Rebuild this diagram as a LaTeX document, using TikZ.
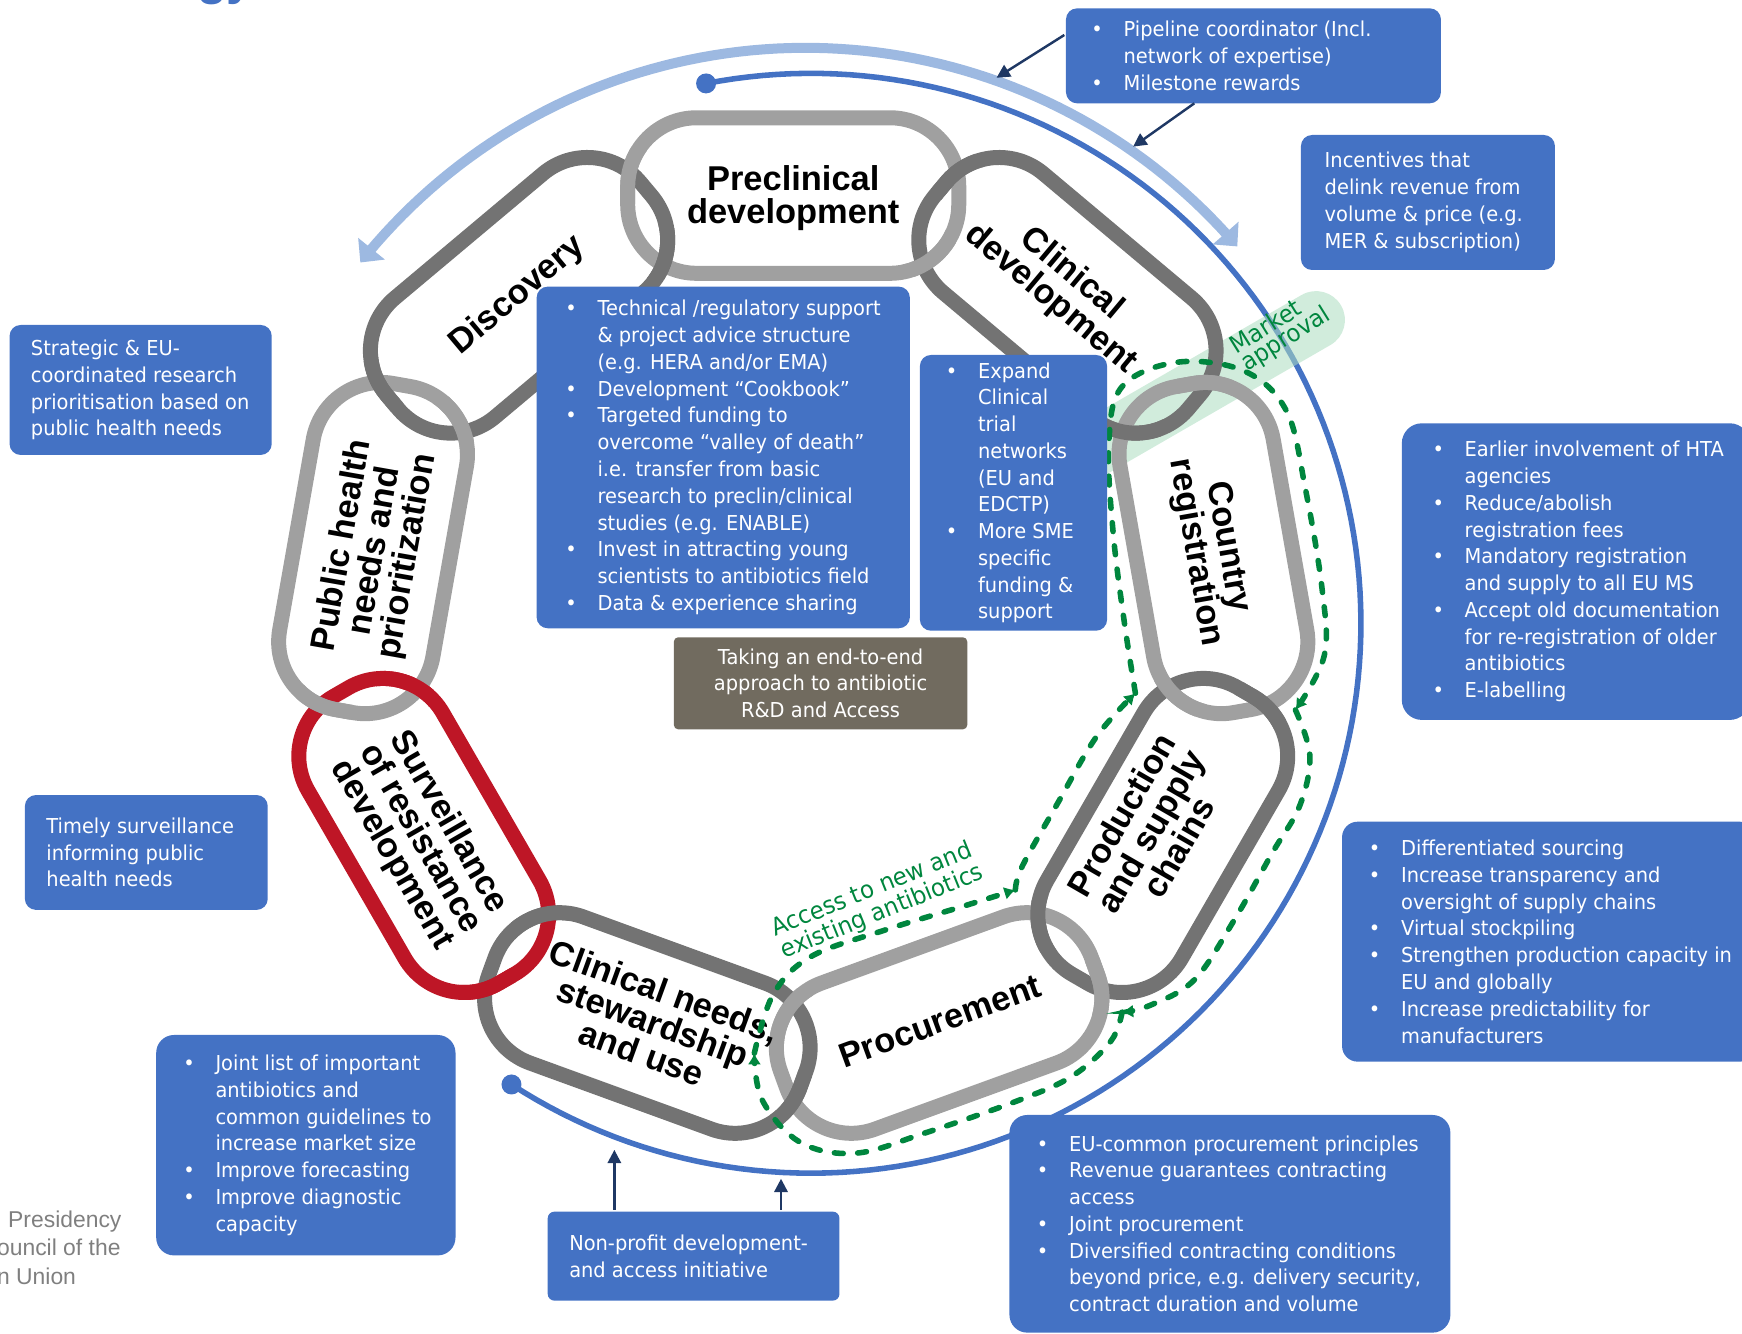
\documentclass[tikz,border=0pt]{standalone}
\usepackage{fontspec}
\usetikzlibrary{arrows.meta,fit}
\newfontfamily\boxfont{DejaVu Sans}[FakeStretch=0.945]
\newfontfamily\lblfont{Liberation Sans}
\definecolor{boxblue}{HTML}{4472C4}
\definecolor{lightarc}{HTML}{9DB9E1}
\definecolor{navy}{HTML}{1F3864}
\definecolor{lgray}{HTML}{A0A0A0}
\definecolor{dgray}{HTML}{737373}
\definecolor{linkred}{HTML}{BE1626}
\definecolor{dgreen}{HTML}{00863E}
\definecolor{bandgreen}{HTML}{ACDDC0}
\definecolor{taupe}{HTML}{716B5F}
\definecolor{pgray}{HTML}{7F7F7F}
\newcommand{\chainlink}[4]{\begin{scope}[shift={(#2,#3)},rotate=#4]\draw[#1,line width=6.75pt,rounded corners=31pt] (-149,-70) rectangle (149,70);\end{scope}}
\newcommand{\Lprecl}{\chainlink{lgray}{714}{176}{0}}
\newcommand{\Lclindev}{\chainlink{dgray}{960.8}{265.8}{-40}}
\newcommand{\Lcountry}{\chainlink{lgray}{1092.2}{493.3}{-80}}
\newcommand{\Lprod}{\chainlink{dgray}{1046.6}{752}{60}}
\newcommand{\Lproc}{\chainlink{lgray}{845.3}{920.8}{20}}
\newcommand{\Lclinneeds}{\chainlink{dgray}{582.7}{920.8}{-20}}
\newcommand{\Lsurv}{\chainlink{linkred}{381.4}{752}{-60}}
\newcommand{\Lpublic}{\chainlink{lgray}{335.8}{493.3}{80}}
\newcommand{\Ldisc}{\chainlink{dgray}{467.2}{265.8}{40}}
\newcommand{\crosspatch}[3]{\begin{scope}\clip ({714+#2*cos(#3)},{560-#2*sin(#3)}) circle (13pt);#1\end{scope}}
\newcommand{\bul}{\llap{\makebox[14.5pt][l]{\textbullet}}}
\begin{document}
\begin{tikzpicture}[x=0.5pt, y=-0.5pt,
  box/.style={fill=boxblue, draw=none, rounded corners=5pt, inner sep=0},
  boxtext/.style={font=\boxfont\fontsize{9.25}{12.05}\selectfont, text=white, align=left, inner sep=0, anchor=west},
  lbl/.style={font=\lblfont\bfseries\fontsize{15.5}{14.8}\selectfont, align=center, inner sep=0},
  navyarrow/.style={navy, line width=1.1pt, -{Triangle[length=6pt,width=6pt]}},
  greendash/.style={dgreen, line width=2.5pt, line cap=round, dash pattern=on 4pt off 6.5pt, -{Latex[length=5pt,width=6pt]}},
  greentext/.style={font=\boxfont\fontsize{10.9}{11}\selectfont, text=dgreen, align=left, inner sep=0}
]
\useasboundingbox (0,0) rectangle (1568,1200);

% title fragment
\node[text=boxblue, font=\lblfont\bfseries\fontsize{22}{22}\selectfont, anchor=base, inner sep=0] (title) at (203,-5) {gy};

% light blue double arrow arc
\draw[lightarc, line width=4.5pt, {Triangle[width=15pt,length=8pt]}-{Triangle[width=15pt,length=8pt]}]
  plot[domain=141.5:40.6, samples=80] ({725+512*cos(\x)},{555-512*sin(\x)});

% blue arc with dots
\coordinate (bs) at ({730+495*cos(101)},{561-495*sin(101)});
\coordinate (be) at ({730+495*cos(-123)},{561-495*sin(-123)});
\draw[boxblue, line width=2.5pt] plot[domain=101:-123, samples=150] ({730+495*cos(\x)},{561-495*sin(\x)});
\fill[boxblue] (bs) circle (4.5pt);
\fill[boxblue] (be) circle (4.5pt);

% market approval band
\draw[bandgreen, draw opacity=0.55, line width=26pt, line cap=round] (975,409) -- (1184.6,288);

% chain links
\Lprecl \Lclindev \Lcountry \Lprod \Lproc \Lclinneeds \Lsurv \Lpublic \Ldisc
\crosspatch{\Lprecl}{428}{110} \crosspatch{\Ldisc}{355}{110}
\crosspatch{\Lclindev}{428}{70} \crosspatch{\Lprecl}{355}{70}
\crosspatch{\Lcountry}{428}{30} \crosspatch{\Lclindev}{355}{30}
\crosspatch{\Lprod}{428}{-10} \crosspatch{\Lcountry}{355}{-10}
\crosspatch{\Lproc}{428}{-50} \crosspatch{\Lprod}{355}{-50}
\crosspatch{\Lclinneeds}{428}{-90} \crosspatch{\Lproc}{355}{-90}
\crosspatch{\Lsurv}{428}{-130} \crosspatch{\Lclinneeds}{355}{-130}
\crosspatch{\Lpublic}{428}{-170} \crosspatch{\Lsurv}{355}{-170}
\crosspatch{\Ldisc}{428}{150} \crosspatch{\Lpublic}{355}{150}

% link labels
\node[lbl] (n-precl) at (714,178) {Preclinical\\development};
\node[lbl, rotate=40] (n-disc) at (466,266) {Discovery};
\node[lbl, rotate=-40] (n-clindev) at (955,258) {Clinical\\development};
\node[lbl, rotate=-80] (n-country) at (1090,495) {Country\\registration};
\node[lbl, rotate=60] (n-prod) at (1035,748) {Production\\and supply\\chains};
\node[lbl, rotate=20] (n-proc) at (846,919) {Procurement};
\node[lbl, rotate=-20] (n-clinneeds) at (588,920) {Clinical needs,\\stewardship\\and use};
\node[lbl, rotate=-60] (n-surv) at (378,755) {Surveillance\\of resistance\\development};
\node[lbl, rotate=80] (n-public) at (338,496) {Public health\\needs and\\prioritization};

% green dashed loop
\draw[greendash] plot[smooth, tension=0.6] coordinates {(1022,624) (1012,560) (1002,480) (998,400) (1010,348) (1060,326) (1120,334) (1158,370) (1175,440) (1190,530) (1192,590) (1166,639)};
\draw[greendash] plot[smooth, tension=0.6] coordinates {(1166,639) (1179,680) (1170,725) (1145,768) (1111,828) (1075,882) (1035,905) (1010,911)};
\draw[greendash] plot[smooth, tension=0.6] coordinates {(1010,911) (1000,937) (966,968) (918,990) (832,1020) (770,1038) (720,1028) (686,990) (679,948)};
\draw[greendash] plot[smooth, tension=0.6] coordinates {(679,948) (696,895) (730,861) (797,837) (866,816) (914,801)};
\draw[greendash] plot[smooth, tension=0.6] coordinates {(914,801) (920,780) (952,723) (987,663) (1022,624)};

\node[greentext, rotate=32] (t-market) at (1153,298) {Market\\[-2pt]approval};
\node[greentext, rotate=22] (t-access) at (790,811) {Access to new and\\existing antibiotics};

% boxes
\node[box, fit={(959.5,7.5) (1297,93)}] (pipeline) {};
\node[boxtext] (pipeline-t) at (1011,50.25) {\bul Pipeline coordinator (Incl.\\network of expertise)\\\bul Milestone rewards};

\node[box, fit={(1171,121.5) (1399.6,243)}] (incent) {};
\node[boxtext] (incent-t) at (1192,182.25) {Incentives that\\delink revenue from\\volume \& price (e.g.\\MER \& subscription)};

\node[box, fit={(8.6,292.5) (244.6,409.5)}] (strat) {};
\node[boxtext] (strat-t) at (27.5,351) {Strategic \& EU-\\coordinated research\\prioritisation based on\\public health needs};

\node[box, fit={(483,258) (819,565.5)}] (tech) {};
\node[boxtext] (tech-t) at (537.5,411.75) {\bul Technical /regulatory support\\\& project advice structure\\(e.g. HERA and/or EMA)\\\bul Development “Cookbook”\\\bul Targeted funding to\\overcome “valley of death”\\i.e. transfer from basic\\research to preclin/clinical\\studies (e.g. ENABLE)\\\bul Invest in attracting young\\scientists to antibiotics field\\\bul Data \& experience sharing};

\node[box, fit={(828,319.5) (996.5,567.7)}] (expand) {};
\node[boxtext] (expand-t) at (880,443.6) {\bul Expand\\Clinical\\trial\\networks\\(EU and\\EDCTP)\\\bul More SME\\specific\\funding \&\\support};

\node[box, fill=taupe, rounded corners=2pt, fit={(606.5,573.6) (870.7,656.5)}] (taking) {};
\node[boxtext, align=center, anchor=center] (taking-t) at (738.6,615.05) {Taking an end-to-end\\approach to antibiotic\\R\&D and Access};

\node[box, rounded corners=9pt, fit={(1261.8,381) (1575,648)}] (earlier) {};
\node[boxtext] (earlier-t) at (1318,514.5) {\bul Earlier involvement of HTA\\agencies\\\bul Reduce/abolish\\registration fees\\\bul Mandatory registration\\and supply to all EU MS\\\bul Accept old documentation\\for re-registration of older\\antibiotics\\\bul E-labelling};

\node[box, rounded corners=7pt, fit={(1208,739.6) (1580,955.6)}] (diff) {};
\node[boxtext] (diff-t) at (1260.8,847.6) {\bul Differentiated sourcing\\\bul Increase transparency and\\oversight of supply chains\\\bul Virtual stockpiling\\\bul Strengthen production capacity in\\EU and globally\\\bul Increase predictability for\\manufacturers};

\node[box, fit={(22.4,715.6) (241,819)}] (timely) {};
\node[boxtext] (timely-t) at (41.4,767.3) {Timely surveillance\\informing public\\health needs};

\node[box, rounded corners=8pt, fit={(140.6,931.6) (410,1130)}] (joint) {};
\node[boxtext] (joint-t) at (193.6,1030.8) {\bul Joint list of important\\antibiotics and\\common guidelines to\\increase market size\\\bul Improve forecasting\\\bul Improve diagnostic\\capacity};

\node[box, rounded corners=3pt, fit={(493,1090.6) (755.6,1170.7)}] (nonprofit) {};
\node[boxtext] (nonprofit-t) at (512,1130.65) {Non-profit development-\\and access initiative};

\node[box, rounded corners=8pt, fit={(908.6,1003.6) (1305.5,1199.5)}] (eucommon) {};
\node[boxtext] (eucommon-t) at (962,1101.5) {\bul EU-common procurement principles\\\bul Revenue guarantees contracting\\access\\\bul Joint procurement\\\bul Diversified contracting conditions\\beyond price, e.g. delivery security,\\contract duration and volume};

% navy arrows
\coordinate (a1s) at (958,31.5);  \coordinate (a1e) at (897,70);
\coordinate (a2s) at (1075,93);   \coordinate (a2e) at (1020,132);
\coordinate (a3s) at (553,1089);  \coordinate (a3e) at (553,1035);
\coordinate (a4s) at (703,1089);  \coordinate (a4e) at (703,1061);
\draw[navyarrow] (a1s) -- (a1e);
\draw[navyarrow] (a2s) -- (a2e);
\draw[navyarrow] (a3s) -- (a3e);
\draw[navyarrow] (a4s) -- (a4e);

% presidency text
\node[font=\lblfont\fontsize{10.3}{12.75}\selectfont, text=pgray, align=left, anchor=base west, inner sep=0] (pres) at (-3,1156) {\hspace*{5pt}Presidency\\ouncil of the\\n Union};
\end{tikzpicture}
\end{document}
